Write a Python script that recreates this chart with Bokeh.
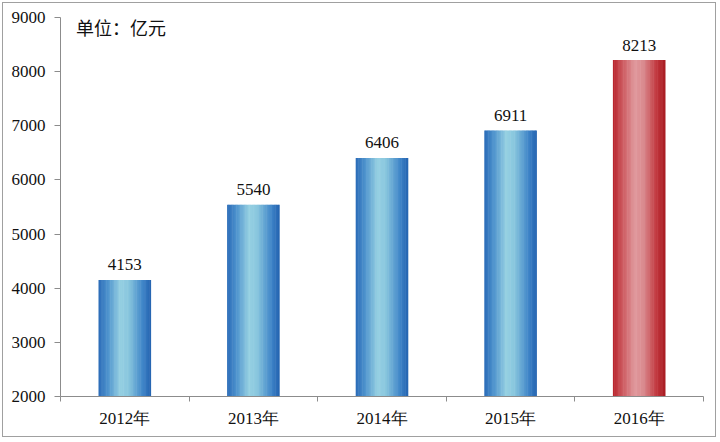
from bokeh.plotting import figure
from bokeh.models import Range1d, FixedTicker, Label, ColumnDataSource, InlineStyleSheet
from bokeh.core.properties import value
from bokeh.embed import file_html
from bokeh.resources import INLINE

# ---- data ----
years = ["2012年", "2013年", "2014年", "2015年", "2016年"]
amounts = [4153, 5540, 6406, 6911, 8213]
highlight = [False, False, False, False, True]
y_ticks = [2000, 3000, 4000, 5000, 6000, 7000, 8000, 9000]
unit_text = "单位：亿元"

SERIF = "'Liberation Serif'"

# gradient stops (position, rgb)
blue_stops = [(0.0, (0x2a, 0x6b, 0xb8)), (0.18, (0x4e, 0x93, 0xcd)), (0.42, (0x96, 0xd0, 0xe2)),
              (0.58, (0x88, 0xc6, 0xde)), (0.85, (0x3f, 0x85, 0xc8)), (1.0, (0x24, 0x63, 0xb0))]
red_stops = [(0.0, (0xb8, 0x22, 0x2a)), (0.18, (0xcc, 0x58, 0x5e)), (0.42, (0xe0, 0x98, 0x9c)),
             (0.58, (0xda, 0x8c, 0x90)), (0.85, (0xc0, 0x34, 0x3b)), (1.0, (0xa8, 0x1c, 0x22))]


def grad(stops, t):
    for (p0, c0), (p1, c1) in zip(stops[:-1], stops[1:]):
        if p0 <= t <= p1:
            f = (t - p0) / (p1 - p0) if p1 > p0 else 0
            c = [round(a + (b - a) * f) for a, b in zip(c0, c1)]
            return "#%02x%02x%02x" % tuple(c)
    return "#%02x%02x%02x" % stops[-1][1]


BAR_W = 0.405
N = 40
sw = BAR_W / N
xs, tops, cols = [], [], []
for i, (v, hl) in enumerate(zip(amounts, highlight)):
    stops = red_stops if hl else blue_stops
    for k in range(N):
        t = (k + 0.5) / N
        xs.append(i + 0.5 - BAR_W / 2 + (k + 0.5) * sw)
        tops.append(v)
        cols.append(grad(stops, t))

frame_css = InlineStyleSheet(css=":host { box-shadow: inset 0 0 0 2px #ffffff, inset 0 0 0 3px #a0a0a0; }")

p = figure(width=718, height=439, output_backend="svg", toolbar_location=None,
           x_range=Range1d(0, len(years)), y_range=Range1d(2000, 9000),
           min_border_left=60, min_border_top=17, min_border_right=15, min_border_bottom=43,
           stylesheets=[frame_css])
p.outline_line_color = None
p.border_fill_color = None
p.xgrid.grid_line_color = None
p.ygrid.grid_line_color = None
p.background_fill_color = "white"

src = ColumnDataSource(dict(x=xs, top=tops, color=cols))
p.vbar(x="x", top="top", bottom=2000, width=sw * 1.4, fill_color="color",
       line_color=None, source=src)

centers = [i + 0.5 for i in range(len(years))]
lab = ColumnDataSource(dict(x=centers, y=amounts, t=[str(v) for v in amounts]))
p.text(x="x", y="y", text="t", source=lab, text_align="center", text_baseline="alphabetic",
       y_offset=-15, text_font=value(SERIF), text_font_size="17px", text_color="#111111")

p.add_layout(Label(x=0.12, y=8830, text=unit_text, text_baseline="middle",
                   text_font="Noto Sans CJK SC", text_font_size="18px", text_color="#111111"))

AX = "#8c8c8c"
ya = p.yaxis[0]
ya.ticker = FixedTicker(ticks=y_ticks)
ya.axis_line_color = AX
ya.major_tick_line_color = AX
ya.major_tick_out = 6
ya.major_tick_in = 0
ya.minor_tick_line_color = None
ya.major_label_standoff = 9
ya.major_label_text_font = SERIF
ya.major_label_text_font_size = "17px"
ya.major_label_text_color = "#111111"

xa = p.xaxis[0]
xa.ticker = FixedTicker(ticks=centers, minor_ticks=list(range(len(years) + 1)))
xa.major_label_overrides = {c: y for c, y in zip(centers, years)}
xa.axis_line_color = AX
xa.major_tick_line_color = None
xa.major_tick_out = 0
xa.minor_tick_line_color = AX
xa.minor_tick_out = 5
xa.minor_tick_in = 0
xa.major_label_standoff = 7
xa.major_label_text_font = SERIF
xa.major_label_text_font_size = "17px"
xa.major_label_text_color = "#111111"

open("out.html", "w").write(file_html(p, INLINE))
